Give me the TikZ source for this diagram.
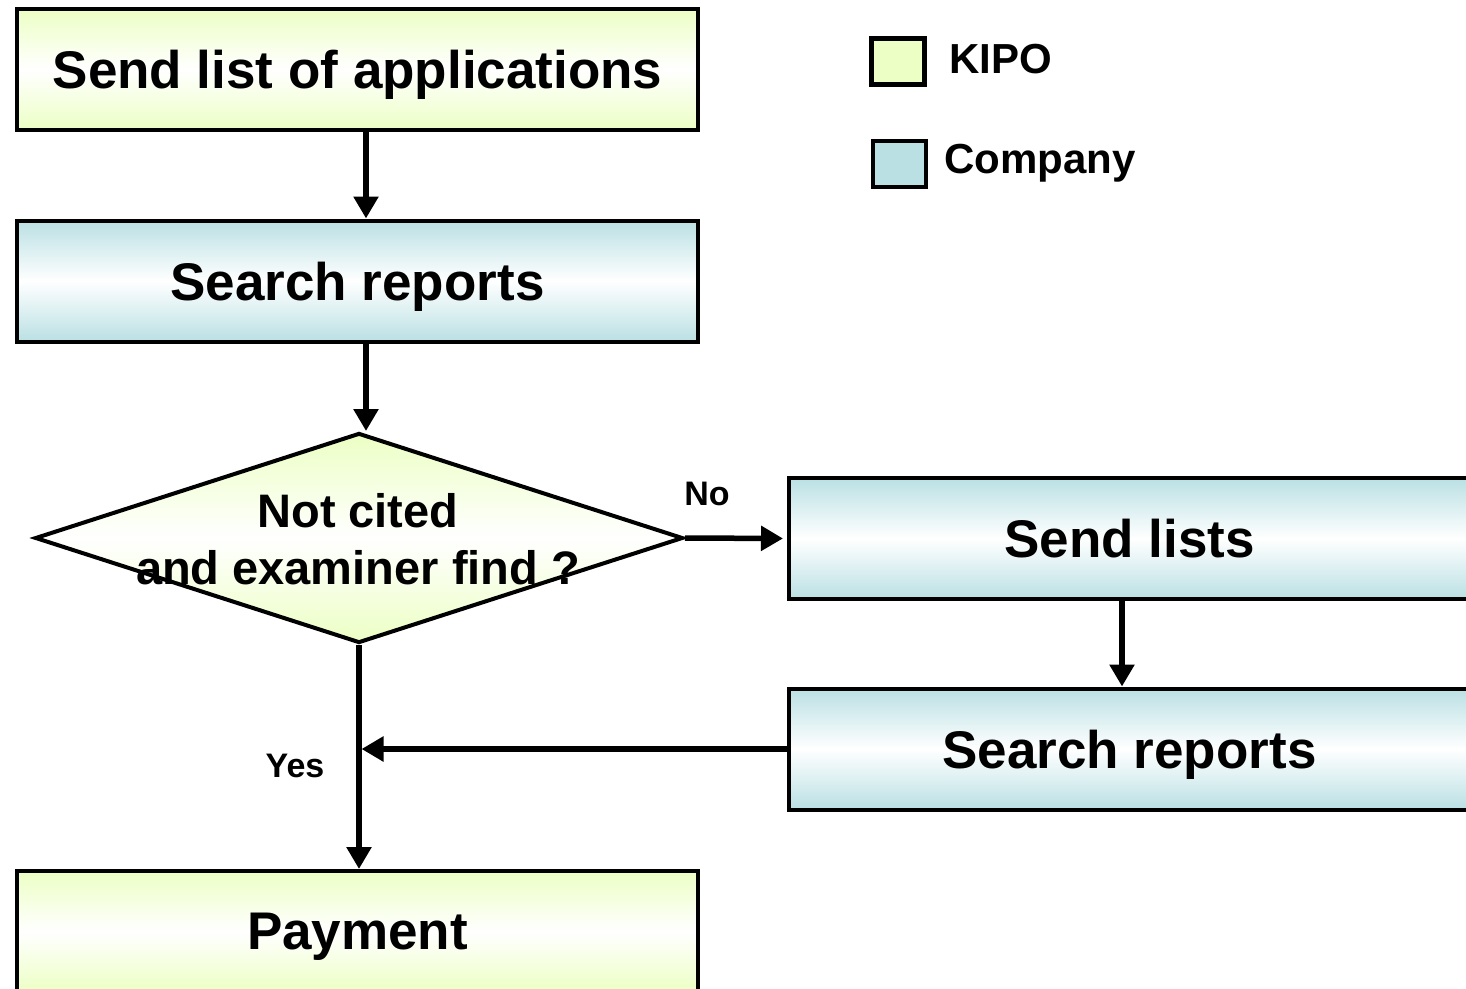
\documentclass[tikz,border=0pt]{standalone}
\usepackage{fontspec}
\setmainfont{Liberation Sans}
\usetikzlibrary{shapes.geometric,arrows.meta}
\definecolor{kipo}{RGB}{236,255,196}
\definecolor{comp}{RGB}{186,224,228}
\tikzset{
  kbox/.style={draw, line width=4pt, minimum width=681pt, minimum height=121pt, inner sep=0pt, text depth=0pt,
    top color=kipo, bottom color=kipo, middle color=white, font=\bfseries\fontsize{53}{60}\selectfont},
  cbox/.style={draw, line width=4pt, minimum width=681pt, minimum height=121pt, inner sep=0pt, text depth=0pt,
    top color=comp, bottom color=comp, middle color=white, font=\bfseries\fontsize{53}{60}\selectfont},
  conn/.style={line width=5.5pt, -{Triangle[length=22pt,width=24pt]}},
  lbl/.style={font=\bfseries\fontsize{34}{40}\selectfont, inner sep=0pt},
  legsq/.style={draw, line width=4.5pt, minimum width=53pt, minimum height=46pt, inner sep=0pt},
  legtxt/.style={font=\bfseries\fontsize{42}{48}\selectfont, inner sep=0pt, anchor=west}
}
\begin{document}
\begin{tikzpicture}[x=1pt,y=-1pt]
\useasboundingbox (0,0) rectangle (1466,988);
\node[kbox] (b1) at (357.5,69.5) {Send list of applications};
\node[cbox] (b2) at (357.5,281) {Search reports};
\node[diamond, draw, line width=4pt, minimum width=648pt, minimum height=210pt, inner sep=0pt,
  top color=kipo, bottom color=kipo, middle color=white] (d) at (359,538) {};
\node[font=\bfseries\fontsize{47}{57}\selectfont, align=center, inner sep=0pt] (dt) at (358,539) {Not cited\\and examiner find ?};
\node[cbox] (b3) at (1129.5,538.5) {Send lists};
\node[cbox] (b4) at (1129.5,749) {Search reports};
\node[kbox] (pay) at (357.5,931.5) {Payment};
% legend
\node[legsq, fill=kipo] (lk) at (898,61.5) {};
\node[legtxt] (lkt) at (949,59) {KIPO};
\node[legsq, fill=comp] (lc) at (899.5,164) {};
\node[legtxt] (lct) at (944,163) {Company};
% connectors
\draw[conn] ([xshift=8.5pt]b1.south) -- ([xshift=8.5pt]b2.north);
\draw[conn] ([xshift=8.5pt]b2.south) -- ([xshift=8.5pt]b2.south |- d.north);
\draw[conn, shorten >=4pt] (d.east) -- (b3.west);
\draw[conn] ([xshift=-7.5pt]b3.south) -- ([xshift=-7.5pt]b4.north);
\coordinate (j) at ([xshift=2.5pt]d.south |- b4.west);
\draw[conn] (b4.west) -- (j);
\draw[conn] (d.south) -- (d.south |- pay.north);
\node[lbl] (no) at (707,494) {No};
\node[lbl] (yes) at (295,766) {Yes};
\end{tikzpicture}
\end{document}
